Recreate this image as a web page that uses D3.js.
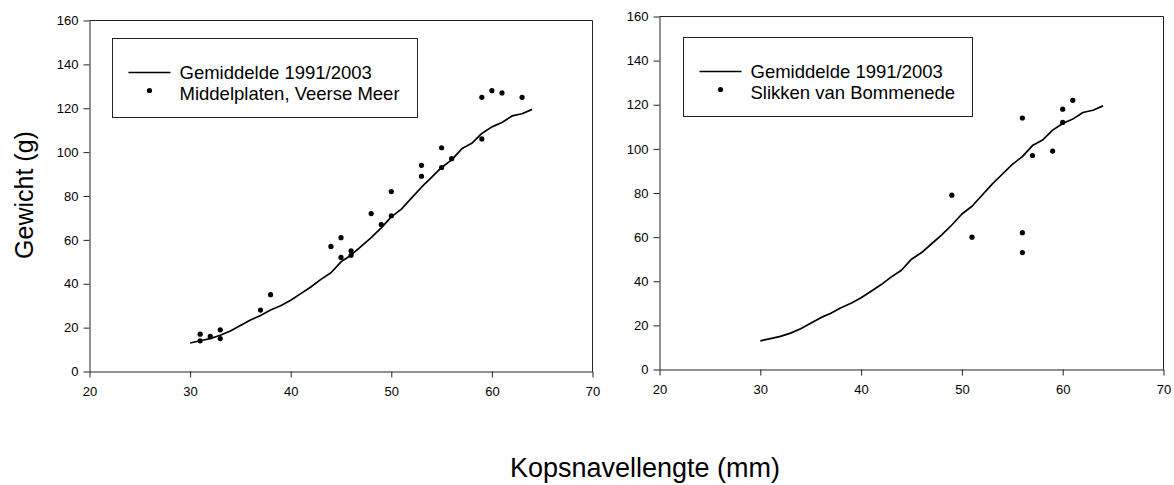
<!DOCTYPE html>
<html lang="nl">
<head>
<meta charset="UTF-8">
<title>Gewicht - kopsnavellengte</title>
<style>
    html,body{
        margin: 0;
        padding: 0;
        background: #fff;
    }
    svg text{
        font-family: Arial, "Liberation Sans", sans-serif;
        fill: #000;
    }
</style>
</head>
<body>
<div id="chart"></div>

<script src="https://d3js.org/d3.v7.min.js"></script>
<script>
    // gemiddelde curve 1991/2003
    const meanLength = [30,31,32,33,34,35,36,37,38,39,40,41,42,43,44,45,46,47,48,49,50,51,52,53,54,55,56,57,58,59,60,61,62,63,64]
    const meanWeight = [13,14,15,16.5,18.5,21,23.5,25.5,28,30,32.5,35.5,38.5,42,45,50,53,57,61,65.5,70.5,74,79,84,88.5,93,96.5,101.5,104,108.5,111.5,113.5,116.5,117.5,119.5]

    // Middelplaten, Veerse Meer
    const veerseLength = [31,31,32,33,33,37,38,44,45,45,46,46,48,49,50,50,53,53,55,55,56,59,59,60,61,63]
    const veerseWeight = [17,14,16,19,15,28,35,57,61,52,55,53,72,67,82,71,94,89,102,93,97,125,106,128,127,125]

    // Slikken van Bommenede
    const bommLength = [49,51,56,56,56,57,59,60,60,61]
    const bommWeight = [79,60,114,62,53,97,99,118,112,122]

    const xTicks = [20,30,40,50,60,70]
    const yTicks = [0,20,40,60,80,100,120,140,160]
    const meanLabel = 'Gemiddelde 1991/2003'
    const yTitle = 'Gewicht (g)'
    const xTitle = 'Kopsnavellengte (mm)'

    const [width,height] = [1174,485]
    const svg = d3.select('#chart').append('svg')
        .attr('width', width)
        .attr('height', height)

    const mean = meanLength.map((x,i) => [x, meanWeight[i]])

    function drawPanel(box, pts, label, leg) {
        const x = d3.scaleLinear().domain([20,70]).range([box.left, box.right])
        const y = d3.scaleLinear().domain([0,160]).range([box.bottom, box.top])
        const g = svg.append('g')

        // frame top + right
        g.append('path')
            .attr('d', `M${box.left},${box.top}H${box.right}V${box.bottom}`)
            .attr('fill','none')
            .attr('stroke','#222')

        const ax = g.append('g')
            .attr('transform', `translate(0,${box.bottom})`)
            .call(d3.axisBottom(x).tickValues(xTicks).tickSize(6).tickSizeOuter(0).tickPadding(9))
        const ay = g.append('g')
            .attr('transform', `translate(${box.left},0)`)
            .call(d3.axisLeft(y).tickValues(yTicks).tickSize(6).tickSizeOuter(0).tickPadding(5))
        ;[ax,ay].forEach(a => {
            a.selectAll('path,line').attr('stroke','#222')
            a.selectAll('text').attr('font-size', 13).attr('font-family','Arial, "Liberation Sans", sans-serif')
        })

        const line = d3.line().x(d => x(d[0])).y(d => y(d[1]))
        g.append('path')
            .datum(mean)
            .attr('d', line)
            .attr('fill','none')
            .attr('stroke','#000')
            .attr('stroke-width',1.7)
            .attr('stroke-linejoin','round')

        g.selectAll('circle.pt')
            .data(pts)
            .join('circle')
            .attr('class','pt')
            .attr('cx', d => x(d[0]))
            .attr('cy', d => y(d[1]))
            .attr('r', 2.6)
            .attr('fill','#000')

        // legend
        const lg = g.append('g')
        lg.append('rect')
            .attr('x', leg.x).attr('y', leg.y)
            .attr('width', leg.w).attr('height', leg.h)
            .attr('fill','#fff')
            .attr('stroke','#222')
        lg.append('line')
            .attr('x1', leg.x + 16).attr('x2', leg.x + 58)
            .attr('y1', leg.y + 34).attr('y2', leg.y + 34)
            .attr('stroke','#000').attr('stroke-width',1.7)
        lg.append('circle')
            .attr('cx', leg.x + 37).attr('cy', leg.y + 52)
            .attr('r', 2.6).attr('fill','#000')
        lg.append('text')
            .attr('x', leg.x + 67).attr('y', leg.y + 34).attr('dy','0.36em')
            .attr('font-size', 18.5)
            .text(meanLabel)
        lg.append('text')
            .attr('x', leg.x + 67).attr('y', leg.y + 55).attr('dy','0.36em')
            .attr('font-size', 18.5)
            .text(label)
    }

    drawPanel({left:89.5,right:592.5,top:20.5,bottom:371.5},
        veerseLength.map((x,i) => [x, veerseWeight[i]]),
        'Middelplaten, Veerse Meer',
        {x:112.5,y:38.5,w:305,h:79})

    drawPanel({left:659.5,right:1163.5,top:16.5,bottom:369.5},
        bommLength.map((x,i) => [x, bommWeight[i]]),
        'Slikken van Bommenede',
        {x:683.5,y:37.5,w:289,h:79})

    svg.append('text')
        .attr('transform','translate(24,195) rotate(-90)')
        .attr('text-anchor','middle')
        .attr('dy','0.36em')
        .attr('font-size', 25)
        .text(yTitle)

    svg.append('text')
        .attr('x', 645).attr('y', 477)
        .attr('text-anchor','middle')
        .attr('font-size', 27)
        .text(xTitle)
</script>
</body>
</html>
